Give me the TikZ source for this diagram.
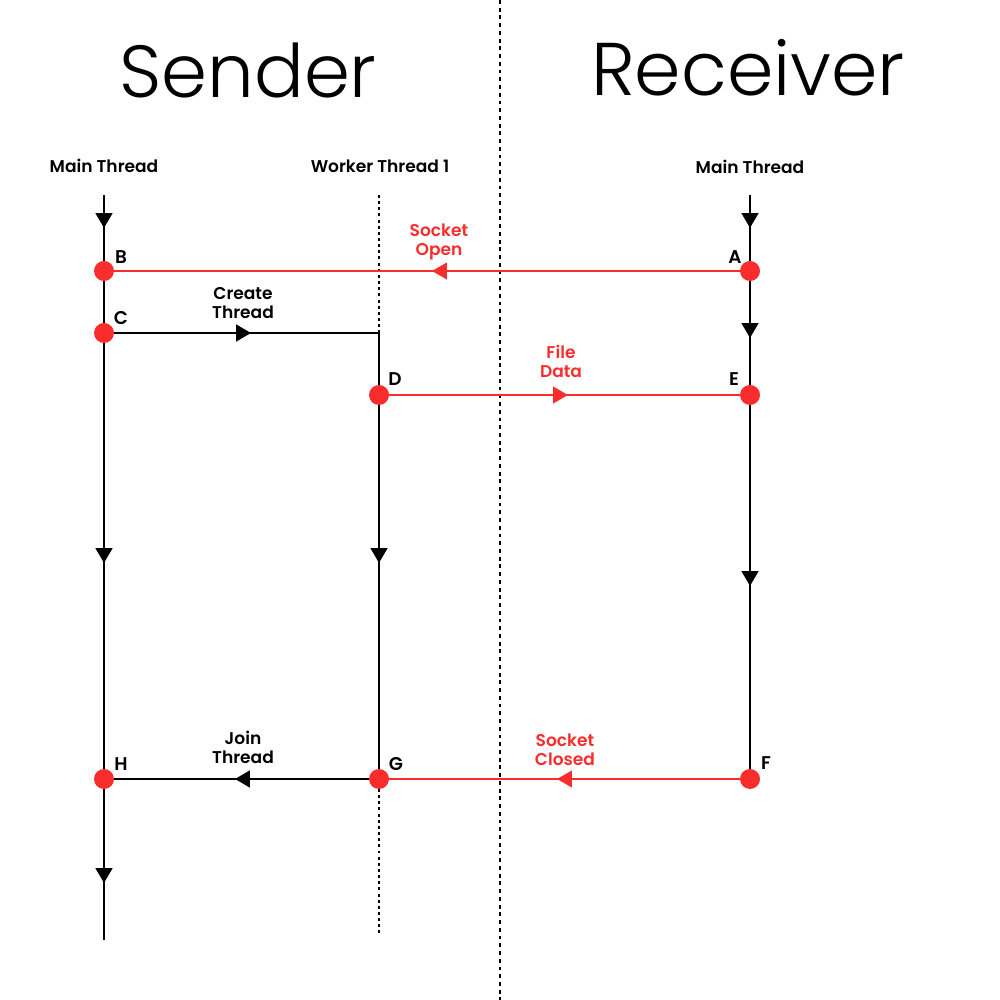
\documentclass[tikz,border=0pt]{standalone}
\usepackage{fontspec}
\setmainfont{Poppins}
\newfontfamily\lightfont{Poppins Light}
\newfontfamily\semifont{Poppins SemiBold}
\usetikzlibrary{arrows.meta,decorations.markings}
\definecolor{sockred}{RGB}{250,45,45}

\begin{document}
\begin{tikzpicture}[scale=1.0]
\tikzset{ >=Triangle, inner sep=0pt, outer sep=0pt,
  pt/.style={fill=sockred, circle, minimum size=0.4cm},
  ptname/.style={font=\semifont\fontsize{10.5}{12}\selectfont},
  msg/.style={font=\semifont\fontsize{9.7}{10.8}\selectfont, align=center},
  life/.style={line width=1.4pt, black},
  redmsg/.style={line width=1.1pt, sockred},
  idle/.style={line width=1.25pt, dash pattern=on 1.7pt off 1.8pt},
  midtip/.style={postaction={decorate, decoration={markings,
      mark=at position #1 with {\arrow{Triangle[length=8.5pt,width=9.5pt]}}}}},
}

\useasboundingbox (0,0) rectangle (20,20);

%%% Titulos

\node [font=\lightfont\fontsize{42}{48}\selectfont] (sender) at (4.96,18.6) {Sender};
\node [font=\lightfont\fontsize{42.5}{48}\selectfont] (receiver) at (14.96,18.64) {Receiver};
\node [msg] (smname) at (2.08,16.68) {Main Thread};
\node [msg] (wkname) at (7.6,16.68) {Worker Thread 1};
\node [msg] (rmname) at (15.0,16.66) {Main Thread};

% divisao
\draw [line width=0.85pt, dash pattern=on 2.2pt off 2.2pt] (10,20) -- (10,0);

%%% Pontos

\node [pt] (A) at (15.0,14.58) { };
\node [pt] (B) at (2.08,14.58) { };
\node [pt] (C) at (2.08,13.34) { };
\node [pt] (D) at (7.58,12.1) { };
\node [pt] (E) at (15.0,12.1) { };
\node [pt] (F) at (15.0,4.42) { };
\node [pt] (G) at (7.58,4.42) { };
\node [pt] (H) at (2.08,4.42) { };

\node [ptname] (Aname) at (14.7,14.86) {A};
\node [ptname] (Bname) at (2.42,14.86) {B};
\node [ptname] (Cname) at (2.42,13.64) {C};
\node [ptname] (Dname) at (7.9,12.42) {D};
\node [ptname] (Ename) at (14.68,12.42) {E};
\node [ptname] (Fname) at (15.32,4.74) {F};
\node [ptname] (Gname) at (7.92,4.72) {G};
\node [ptname] (Hname) at (2.42,4.72) {H};

\coordinate (smtop) at (2.08,16.1);
\coordinate (smbot) at (2.08,1.2);
\coordinate (wktop) at (7.58,16.1);
\coordinate (wkbot) at (7.58,1.3);
\coordinate (wkcnr) at (7.58,13.34);
\coordinate (rmtop) at (15.0,16.1);

%%% Linhas

% sender main thread
\draw [life, midtip=0.66cm] (smtop) -- (B);
\draw [life] (B) -- (C);
\draw [life, midtip=4.4cm] (C) -- (H);
\draw [life, midtip=1.88cm] (H) -- (smbot);

% worker thread
\draw [idle] (wktop) -- (wkcnr);
\draw [life, midtip=2.74cm] (C) -- (wkcnr) -- (D);
\draw [life, midtip=3.16cm] (D) -- (G);
\draw [idle] (G) -- (wkbot);
\node [msg] (create) at (4.86,13.94) {Create\\Thread};

% receiver main thread
\draw [life, midtip=0.66cm] (rmtop) -- (A);
\draw [life, midtip=1.14cm] (A) -- (E);
\draw [life, midtip=3.62cm] (E) -- (F);

% socket open A -> B
\draw [redmsg, midtip=6.16cm] (A) -- (B);
\node [msg, text=sockred] (open) at (8.78,15.16) {Socket\\Open};

% file data D -> E
\draw [redmsg, midtip=3.58cm] (D) -- (E);
\node [msg, text=sockred] (data) at (11.22,12.78) {File\\Data};

% socket closed F -> G
\draw [redmsg, midtip=3.66cm] (F) -- (G);
\node [msg, text=sockred] (closed) at (11.3,5.0) {Socket\\Closed};

% join G -> H
\draw [life, midtip=2.68cm] (G) -- (H);
\node [msg] (join) at (4.86,5.06) {Join\\Thread};

\end{tikzpicture}
\end{document}
